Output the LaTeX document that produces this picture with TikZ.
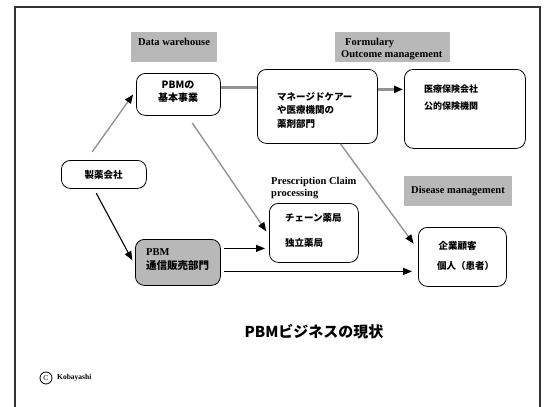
\documentclass[tikz,border=0pt]{standalone}
\usepackage{fontspec}
\setmainfont{Liberation Serif}
\newfontfamily\jp{Noto Sans CJK JP}
\usetikzlibrary{arrows.meta,calc}
\begin{document}
\begin{tikzpicture}[x=1pt,y=-1pt,
  box/.style={draw=black,line width=0.8pt,rounded corners=9pt,anchor=north west,inner sep=0pt},
  shadebox/.style={box,fill=black!28},
  tag/.style={fill=black!28,anchor=north west,inner sep=0pt},
  lbl/.style={font=\fontsize{10.5}{12}\selectfont\bfseries,inner sep=0pt},
  jtxt/.style={font=\jp\bfseries\fontsize{9.5}{13.5}\selectfont,inner sep=0pt},
  tip/.style={-{Triangle[length=9pt,width=7pt,color=black]}},
  garrow/.style={tip,draw=black!42,line width=1.4pt},
  barrow/.style={tip,draw=black,line width=1.1pt},
  hatch/.style={draw=black!42,line width=2.6pt},
]
\useasboundingbox (0,0) rectangle (544,407);
% page frame
\draw[line width=1.3pt,black!80] (15,407) -- (15,7) -- (540,7) -- (540,407);

% shaded headings
\node[tag,minimum width=86pt,minimum height=30pt] (dwtag) at (131,32) {};
\node[lbl] (dw) at (174,42) {Data warehouse};
\node[tag,minimum width=115pt,minimum height=30pt] (formtag) at (335,32) {};
\node[lbl,align=left,anchor=west] (form) at (341,49) {\hspace*{4pt}Formulary\\Outcome management};
\node[tag,minimum width=108pt,minimum height=30pt] (distag) at (404,176) {};
\node[lbl] (dis) at (458,191) {Disease management};
\node[lbl,align=left,anchor=west] (pcp) at (271,188) {Prescription Claim\\processing};

% boxes
\node[box,minimum width=84pt,minimum height=42pt] (pbm) at (136,73) {};
\node[box,minimum width=85pt,minimum height=28pt] (seiyaku) at (61,160) {};
\node[box,minimum width=120pt,minimum height=74pt] (managed) at (257,69) {};
\node[box,minimum width=121pt,minimum height=79pt] (ins) at (404,69) {};
\node[box,minimum width=89pt,minimum height=59pt] (chain) at (269,203) {};
\node[box,minimum width=88pt,minimum height=59pt] (kigyo) at (418,227) {};
\node[shadebox,minimum width=85pt,minimum height=46pt] (tsushin) at (135,239) {};

% box texts
\node[jtxt,align=center,font=\jp\bfseries\fontsize{10}{13}\selectfont] (pbmtxt) at (178,91.5) {PBMの\\基本事業};
\node[jtxt] (seiyakutxt) at (103.5,175) {製薬会社};
\node[jtxt,align=left,anchor=west] (managedtxt) at (277,110.5) {マネージドケアー\\や医療機関の\\薬剤部門};
\node[jtxt,align=left,anchor=west,font=\jp\bfseries\fontsize{9}{17}\selectfont] (instxt) at (424,97.5) {医療保険会社\\公的保険機関};
\node[jtxt,align=left,anchor=west,font=\jp\bfseries\fontsize{9.5}{25}\selectfont] (chaintxt) at (285,230.5) {チェーン薬局\\独立薬局};
\node[jtxt,align=left,anchor=west,font=\jp\bfseries\fontsize{9.5}{20}\selectfont] (kigyotxt) at (437,256) {\hspace*{1.5pt}企業顧客\\個人（患者）};
\node[jtxt,align=left,anchor=west,font=\bfseries\fontsize{10.5}{14}\selectfont] (tsushintxt) at (146,260) {PBM\\{\jp 通信販売部門}};

% title and credit
\node[inner sep=0pt,font=\jp\bfseries\fontsize{15}{18}\selectfont] (title) at (314,332) {PBMビジネスの現状};
\node[draw,circle,line width=0.8pt,minimum size=12pt,inner sep=0pt,font=\fontsize{7.5}{8}\selectfont] (copy) at (46,378) {C};
\node[inner sep=0pt,anchor=west,font=\bfseries\fontsize{7.5}{9}\selectfont] (author) at (57,378) {Kobayashi};

% connectors
\draw[garrow,shorten <=10pt,shorten >=5pt] ([xshift=-17.5pt]seiyaku.north) -- ([yshift=4pt]pbm.west);
\draw[barrow,shorten <=5pt,shorten >=5.7pt] ([xshift=-10pt]seiyaku.south) -- ([yshift=-3pt]tsushin.west);
\draw[hatch] ([yshift=7pt]pbm.east) -- ([yshift=19pt]managed.west);
\draw[hatch,tip,shorten >=1pt] ([yshift=17pt]managed.east) -- ([yshift=19.5pt]ins.west);
\draw[garrow,shorten <=8.6pt,shorten >=4.8pt] ([xshift=9pt]pbm.south) -- ([yshift=-2.4pt]chain.west);
\draw[garrow,shorten >=7.4pt] ([xshift=23pt]managed.south) -- ([yshift=7.3pt]kigyo.west);
\coordinate (m7) at ([yshift=14pt]tsushin.east);
\draw[barrow,shorten <=3pt,shorten >=4pt] (m7) -- (m7 -| chain.west);
\coordinate (m8) at ([yshift=-9pt]tsushin.east);
\draw[barrow,line width=1.5pt,shorten <=3pt,shorten >=6pt] (m8) -- (m8 -| kigyo.west);
\end{tikzpicture}
\end{document}
